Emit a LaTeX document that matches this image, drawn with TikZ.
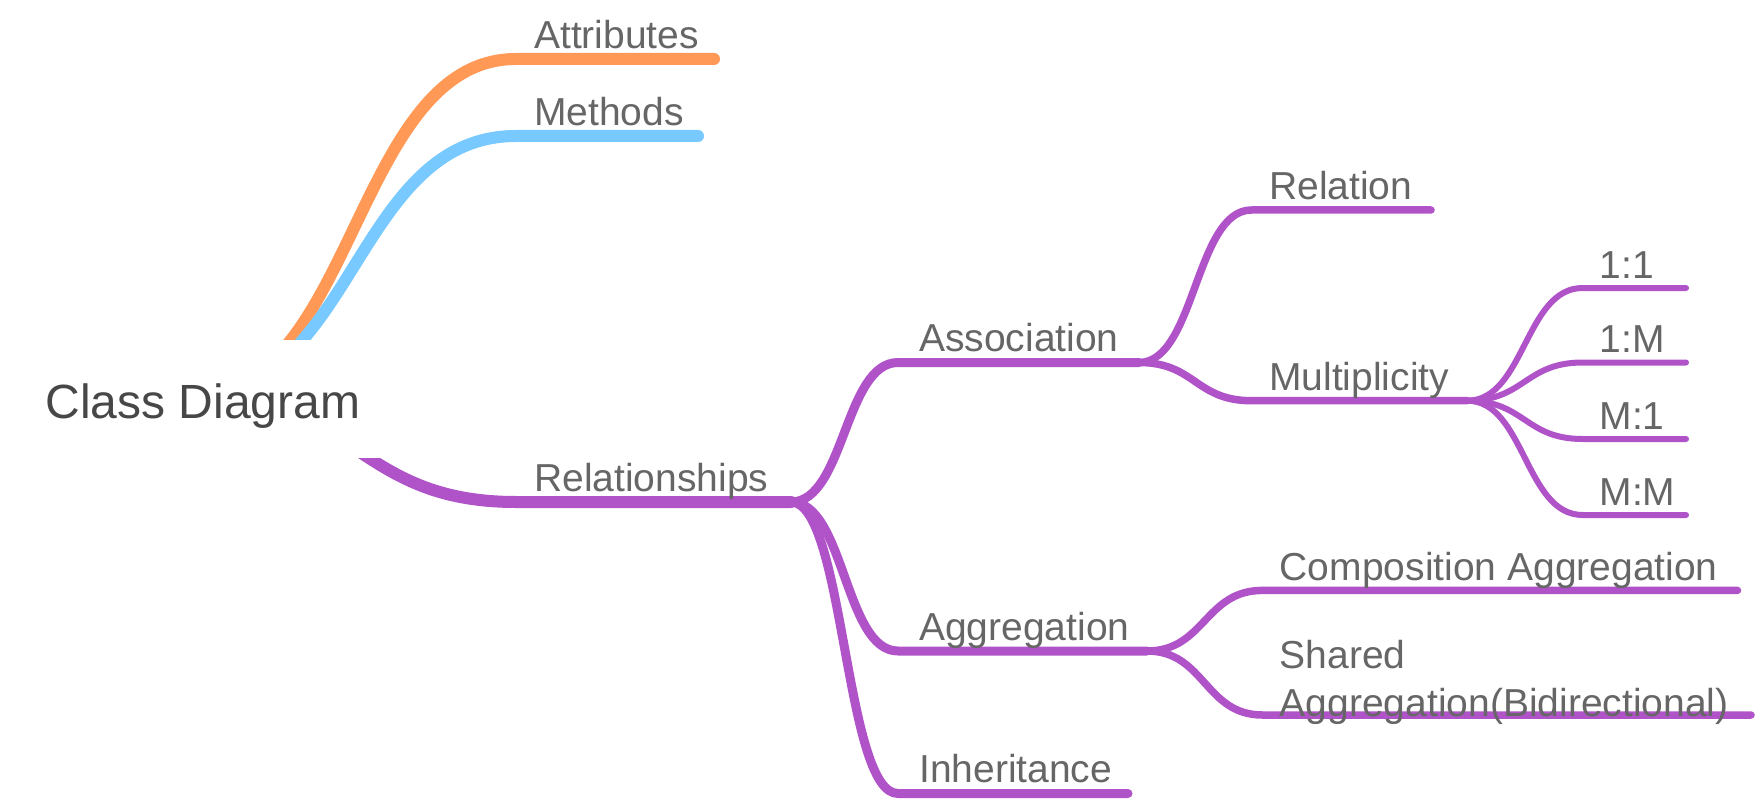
\documentclass[tikz,border=0pt]{standalone}
\usepackage{fontspec}
\setmainfont{Liberation Sans}
\usetikzlibrary{calc}
\definecolor{cOr}{HTML}{FF9955}
\definecolor{cBl}{HTML}{77C9FF}
\definecolor{cPu}{HTML}{B053C8}
\definecolor{cTx}{HTML}{666666}
\definecolor{cRt}{HTML}{474747}
\pgfdeclarelayer{canvas}
\pgfdeclarelayer{back}
\pgfsetlayers{canvas,back,main}
\tikzset{
  mmlink/.style={to path={let \p1=(\tikztostart), \p2=(\tikztotarget) in
      .. controls ({(\x1+\x2)/2},\y1) and ({(\x1+\x2)/2},\y2) .. (\tikztotarget)}},
  br/.style={line cap=round, line join=round},
  dA/.style={br, line width=12pt},
  dB/.style={br, line width=9pt, cPu},
  dC/.style={br, line width=7.5pt, cPu},
  dD/.style={br, line width=6pt, cPu},
  lbl/.style={font=\fontsize{39}{48}\selectfont, text=cTx, inner sep=0pt, anchor=base west, align=left},
  rootbox/.style={fill=white, draw=none, minimum width=368pt, minimum height=118pt, inner sep=0pt,
      text height=45pt, text depth=7pt,
      font=\fontsize{48}{56}\selectfont, text=cRt},
}
\begin{document}
\begin{tikzpicture}[x=1pt,y=-1pt]
\begin{pgfonlayer}{canvas}
\fill[white] (0,0) rectangle (1760,802);
\end{pgfonlayer}
\useasboundingbox (0,0) rectangle (1760,802);
% root
\node[rootbox] (root) at (203,399) {Class Diagram};
\coordinate (rootsrc) at ([shift={(-10,-4)}]root.center);
% depth 1
\coordinate (attrS) at (516,59);  \coordinate (attrE) at (714,59);
\node[lbl] (attr) at (534,48.5) {Attributes};
\coordinate (methS) at (516,136); \coordinate (methE) at (698,136);
\node[lbl] (meth) at (534,126) {Methods};
\coordinate (relsS) at (516,502); \coordinate (relsE) at (791,502);
\node[lbl] (rels) at (534,491) {Relationships};
% depth 2
\coordinate (assoS) at (898,362.5); \coordinate (assoE) at (1139,362.5);
\node[lbl] (asso) at (919,351.5) {Association};
\coordinate (aggrS) at (898,651); \coordinate (aggrE) at (1147,651);
\node[lbl] (aggr) at (919,640) {Aggregation};
\coordinate (inhS) at (898,793.5); \coordinate (inhE) at (1128,793.5);
\node[lbl] (inh) at (919,782.5) {Inheritance};
% depth 3
\coordinate (relaS) at (1251.5,210); \coordinate (relaE) at (1431,210);
\node[lbl] (rela) at (1269,200) {Relation};
\coordinate (multS) at (1251.5,400.7); \coordinate (multE) at (1467,400.7);
\node[lbl] (mult) at (1269,390) {Multiplicity};
\coordinate (compS) at (1262.5,590.4); \coordinate (compE) at (1737.5,590.4);
\node[lbl] (comp) at (1279.6,580.3) {Composition Aggregation};
\coordinate (shrS) at (1262.5,715); \coordinate (shrE) at (1751,715);
\node[lbl] (shr) at (1279.6,716) {Shared\\Aggregation(Bidirectional)};
% depth 4
\coordinate (ooS) at (1582.6,288);   \coordinate (ooE) at (1686,288);
\node[lbl] (oo) at (1599.4,278) {1:1};
\coordinate (omS) at (1582.6,362.5); \coordinate (omE) at (1686,362.5);
\node[lbl] (om) at (1599.4,352.5) {1:M};
\coordinate (moS) at (1582.6,439);   \coordinate (moE) at (1686,439);
\node[lbl] (mo) at (1599.4,429) {M:1};
\coordinate (mmS) at (1582.6,515);   \coordinate (mmE) at (1686,515);
\node[lbl] (mm) at (1599.4,505) {M:M};

\begin{pgfonlayer}{back}
\draw[dA, cOr] (rootsrc) to[mmlink] (attrS) -- (attrE);
\draw[dA, cBl] (rootsrc) to[mmlink] (methS) -- (methE);
\draw[dA, cPu] (rootsrc) to[mmlink] (relsS) -- (relsE);
\draw[dB] (relsE) to[mmlink] (assoS) -- (assoE);
\draw[dB] (relsE) to[mmlink] (aggrS) -- (aggrE);
\draw[dB] (relsE) to[mmlink] (inhS) -- (inhE);
\draw[dC] (assoE) to[mmlink] (relaS) -- (relaE);
\draw[dC] (assoE) to[mmlink] (multS) -- (multE);
\draw[dC] (aggrE) to[mmlink] (compS) -- (compE);
\draw[dC] (aggrE) to[mmlink] (shrS) -- (shrE);
\draw[dD] (multE) to[mmlink] (ooS) -- (ooE);
\draw[dD] (multE) to[mmlink] (omS) -- (omE);
\draw[dD] (multE) to[mmlink] (moS) -- (moE);
\draw[dD] (multE) to[mmlink] (mmS) -- (mmE);
\end{pgfonlayer}
\end{tikzpicture}
\end{document}
